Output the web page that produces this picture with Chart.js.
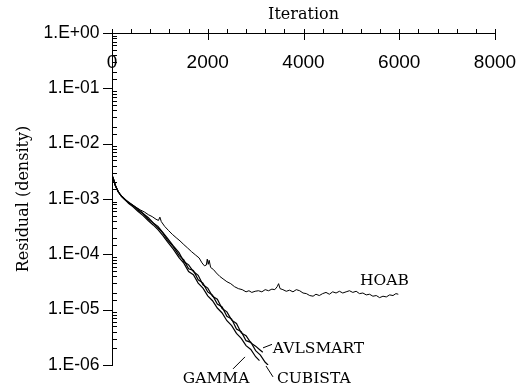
<!DOCTYPE html>
<html>
<head>
<meta charset="utf-8">
<title>Residual (density)</title>
<script src="https://cdn.jsdelivr.net/npm/chart.js@4"></script>
<style>
  html, body { margin: 0; padding: 0; background: #fff; }
</style>
</head>
<body>
<canvas id="residualChart" width="516" height="388"></canvas>
<script>
// iteration ticks that carry a label (minor ticks every 400)
const iterLabels = [0, 2000, 4000, 6000, 8000];

// HOAB residual history
const hoabIter = [0, 30, 70, 130, 200, 270, 350, 430, 520, 600, 680, 760, 840, 920, 970, 1000, 1030,
  1100, 1180, 1260, 1340, 1420, 1500, 1580, 1660, 1740, 1820, 1880, 1930, 1970, 1990, 2010, 2030, 2060,
  2120, 2180, 2250, 2320, 2400, 2480, 2560, 2640, 2720, 2800, 2860, 2920, 2990, 3060, 3130, 3200, 3270,
  3340, 3400, 3450, 3480, 3510, 3570, 3640, 3710, 3780, 3850, 3920, 3990, 4060, 4130, 4200, 4260, 4330,
  4400, 4470, 4540, 4610, 4680, 4750, 4820, 4890, 4960, 5030, 5100, 5170, 5240, 5310, 5380, 5450, 5520,
  5590, 5660, 5730, 5800, 5870, 5930, 5980];
const hoabResidual = [2.7e-3, 2.3e-3, 1.75e-3, 1.35e-3, 1.12e-3, 9.8e-4, 8.6e-4, 7.8e-4, 6.9e-4, 6.3e-4,
  5.8e-4, 5.2e-4, 4.8e-4, 4.3e-4, 4.1e-4, 4.7e-4, 3.9e-4,
  3.2e-4, 2.7e-4, 2.3e-4, 2.0e-4, 1.75e-4, 1.5e-4, 1.3e-4, 1.12e-4, 9.8e-5, 8.6e-5, 7.0e-5, 6.2e-5,
  6.4e-5, 8.2e-5, 6.6e-5, 7.8e-5, 5.8e-5,
  5.3e-5, 4.6e-5, 4.0e-5, 3.6e-5, 3.2e-5, 2.95e-5, 2.6e-5, 2.4e-5, 2.3e-5, 2.1e-5, 2.2e-5, 2.05e-5,
  2.15e-5, 2.2e-5, 2.1e-5, 2.3e-5, 2.2e-5,
  2.35e-5, 2.3e-5, 2.6e-5, 2.95e-5, 2.4e-5, 2.3e-5, 2.15e-5, 2.25e-5, 2.1e-5, 2.3e-5, 2.2e-5, 2.0e-5,
  1.95e-5, 1.8e-5, 1.75e-5, 1.9e-5, 1.8e-5,
  1.95e-5, 2.05e-5, 1.9e-5, 2.1e-5, 2.0e-5, 2.15e-5, 2.0e-5, 2.1e-5, 2.2e-5, 2.05e-5, 2.15e-5, 1.95e-5,
  2.0e-5, 1.85e-5, 1.9e-5, 1.75e-5, 1.8e-5,
  1.65e-5, 1.75e-5, 1.7e-5, 1.85e-5, 1.8e-5, 1.95e-5, 1.9e-5];

// GAMMA residual history
const gammaIter = [0, 30, 70, 130, 200, 270, 350, 440, 540, 650, 760, 860, 960, 1060, 1160, 1280,
  1400, 1500, 1600, 1700, 1800, 1900, 2000, 2100, 2200, 2300, 2400, 2500, 2600, 2700, 2800, 2900, 3000, 3080];
const gammaResidual = [2.7e-3, 2.3e-3, 1.75e-3, 1.35e-3, 1.12e-3, 9.8e-4, 8.3e-4, 7.2e-4, 6.0e-4, 5.0e-4,
  4.05e-4, 3.4e-4, 2.8e-4, 2.2e-4, 1.68e-4, 1.24e-4,
  8.71e-5, 6.92e-5, 4.9e-5, 4.27e-5, 3.02e-5, 2.45e-5, 1.78e-5, 1.45e-5, 1.07e-5, 8.71e-6, 6.31e-6,
  5.13e-6, 3.72e-6, 3.02e-6, 2.24e-6, 1.91e-6, 1.41e-6, 1.2e-6];

// CUBISTA residual history
const cubistaIter = [0, 30, 70, 130, 200, 270, 350, 440, 540, 650, 760, 860, 960, 1060, 1160, 1280,
  1400, 1500, 1600, 1700, 1800, 1900, 2000, 2100, 2200, 2300, 2400, 2500, 2600, 2700, 2800, 2900, 3000,
  3100, 3200, 3260];
const cubistaResidual = [2.7e-3, 2.3e-3, 1.75e-3, 1.35e-3, 1.12e-3, 9.8e-4, 8.5e-4, 7.6e-4, 6.3e-4, 5.4e-4,
  4.3e-4, 3.7e-4, 3.0e-4, 2.45e-4, 1.8e-4, 1.38e-4,
  9.55e-5, 7.94e-5, 5.5e-5, 5.13e-5, 3.47e-5, 3.02e-5, 2.09e-5, 1.82e-5, 1.26e-5, 1.12e-5, 7.59e-6,
  6.76e-6, 4.47e-6, 3.98e-6, 2.75e-6, 2.57e-6, 1.82e-6, 1.51e-6, 1.12e-6, 1.0e-6];

// AVLSMART residual history
const avlsmartIter = [0, 30, 70, 130, 200, 270, 350, 440, 540, 650, 760, 860, 960, 1060, 1160, 1280,
  1400, 1500, 1600, 1700, 1800, 1900, 2000, 2100, 2200, 2300, 2400, 2500, 2600, 2700, 2800, 2900, 3000,
  3080, 3150];
const avlsmartResidual = [2.7e-3, 2.3e-3, 1.75e-3, 1.35e-3, 1.12e-3, 9.8e-4, 8.7e-4, 7.6e-4, 6.7e-4, 5.5e-4,
  4.6e-4, 3.7e-4, 3.2e-4, 2.5e-4, 1.95e-4, 1.42e-4,
  1.07e-4, 7.41e-5, 6.46e-5, 4.9e-5, 4.17e-5, 2.82e-5, 2.45e-5, 1.74e-5, 1.55e-5, 1.05e-5, 9.12e-6,
  6.46e-6, 5.62e-6, 3.8e-6, 3.39e-6, 2.51e-6, 2.19e-6, 1.91e-6, 1.7e-6];

// curve names written next to the lines, anchored at (iteration, residual), baseline-left
const curveNames = [
  { text: 'HOAB', iter: 5180, residual: 2.8e-5 },
  { text: 'AVLSMART', iter: 3360, residual: 1.66e-6 },
  { text: 'CUBISTA', iter: 3445, residual: 4.7e-7 },
  { text: 'GAMMA', iter: 1480, residual: 4.7e-7 }
];
// short leader strokes from the names to their curves
const leaders = [
  [3154, 2.04e-6, 3342, 2.36e-6],
  [2778, 1.4e-6, 2528, 8.5e-7],
  [3217, 9.6e-7, 3363, 6.1e-7]
];

const SANS = '"Liberation Sans", Arial, sans-serif';
const SERIF = '"DejaVu Serif", serif';

function series(iter, res) {
  return iter.map((it, i) => ({ x: it, y: res[i] }));
}

function isDecade(v) {
  const e = Math.round(Math.log10(v));
  return Math.abs(v / Math.pow(10, e) - 1) < 1e-6;
}

function sciLabel(v) {
  const e = Math.round(Math.log10(v));
  const s = e < 0 ? '-' : '+';
  return '1.E' + s + String(Math.abs(e)).padStart(2, '0');
}

// tick marks and curve names, placed through the chart's own scales
const axisDecor = {
  id: 'axisDecor',
  afterDraw(chart) {
    const { ctx, chartArea, scales: { x, y } } = chart;
    ctx.save();
    ctx.strokeStyle = '#000';
    ctx.lineWidth = 1;
    ctx.beginPath();
    x.ticks.forEach(t => {
      const px = Math.round(x.getPixelForValue(t.value)) + 0.5;
      const major = iterLabels.includes(t.value);
      ctx.moveTo(px, chartArea.top - 4);
      ctx.lineTo(px, chartArea.top + (major ? 7 : 0));
    });
    y.ticks.forEach(t => {
      const py = Math.round(y.getPixelForValue(t.value)) + 0.5;
      if (isDecade(t.value)) {
        ctx.moveTo(chartArea.left - 9, py);
        ctx.lineTo(chartArea.left, py);
      } else {
        ctx.moveTo(chartArea.left, py);
        ctx.lineTo(chartArea.left + 5, py);
      }
    });
    leaders.forEach(([x1, y1, x2, y2]) => {
      ctx.moveTo(x.getPixelForValue(x1), y.getPixelForValue(y1));
      ctx.lineTo(x.getPixelForValue(x2), y.getPixelForValue(y2));
    });
    ctx.stroke();

    ctx.fillStyle = '#000';
    ctx.font = '15.5px ' + SERIF;
    ctx.textAlign = 'left';
    ctx.textBaseline = 'alphabetic';
    curveNames.forEach(n => {
      ctx.fillText(n.text, x.getPixelForValue(n.iter), y.getPixelForValue(n.residual));
    });
    ctx.restore();
  }
};

function noPad(scale) {
  scale.paddingLeft = 0;
  scale.paddingRight = 0;
  scale.paddingTop = 0;
  scale.paddingBottom = 0;
}

new Chart(document.getElementById('residualChart'), {
  type: 'line',
  data: {
    datasets: [
      { label: 'HOAB', data: series(hoabIter, hoabResidual), borderWidth: 1 },
      { label: 'GAMMA', data: series(gammaIter, gammaResidual), borderWidth: 1.2 },
      { label: 'CUBISTA', data: series(cubistaIter, cubistaResidual), borderWidth: 1.2 },
      { label: 'AVLSMART', data: series(avlsmartIter, avlsmartResidual), borderWidth: 1.2 }
    ]
  },
  options: {
    responsive: false,
    animation: false,
    events: [],
    layout: { padding: { left: 0, top: 0, right: 21, bottom: 23 } },
    elements: {
      point: { radius: 0 },
      line: { borderColor: '#000', tension: 0, fill: false }
    },
    plugins: {
      legend: { display: false },
      tooltip: { enabled: false }
    },
    scales: {
      x: {
        type: 'linear',
        position: 'top',
        min: 0,
        max: 8000,
        grid: { display: false, drawTicks: false },
        border: { display: true, color: '#000', width: 1 },
        ticks: {
          stepSize: 400,
          autoSkip: false,
          maxRotation: 0,
          mirror: true,
          padding: 18,
          color: '#000',
          font: { family: SANS, size: 19 },
          callback: v => iterLabels.includes(v) ? String(v) : ''
        },
        title: {
          display: true,
          text: 'Iteration',
          color: '#000',
          font: { family: SERIF, size: 16 },
          padding: { top: 5, bottom: 0 }
        },
        afterFit: s => { s.height = 33; noPad(s); }
      },
      y: {
        type: 'logarithmic',
        min: 1e-6,
        max: 1,
        grid: { display: false, drawTicks: false },
        border: { display: true, color: '#000', width: 1 },
        ticks: {
          autoSkip: false,
          padding: 12.5,
          color: '#000',
          font: { family: SANS, size: 17.5 },
          callback: v => isDecade(v) ? sciLabel(v) : ''
        },
        title: {
          display: true,
          text: 'Residual (density)',
          color: '#000',
          font: { family: SERIF, size: 16 },
          padding: { top: 14, bottom: 0 }
        },
        afterFit: s => { s.width = 112; noPad(s); }
      }
    }
  },
  plugins: [axisDecor]
});
</script>
</body>
</html>
